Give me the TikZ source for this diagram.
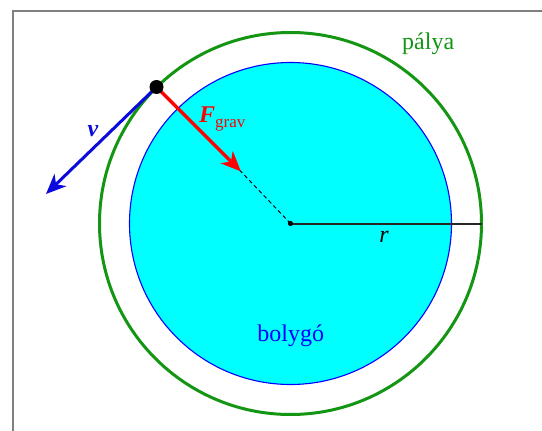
\documentclass[tikz,border=0pt]{standalone}
\usepackage{fontspec}
\setmainfont{Liberation Serif}
\usetikzlibrary{arrows.meta}
\definecolor{orbitgreen}{RGB}{20,150,20}
\definecolor{planetcyan}{RGB}{0,255,255}
\definecolor{planetblue}{RGB}{0,0,255}
\definecolor{forcered}{RGB}{255,0,0}
\definecolor{vblue}{RGB}{10,10,220}
\definecolor{framegray}{RGB}{128,128,128}
\tikzset{
  lbl/.style={inner sep=0pt, font=\fontsize{24}{28}\selectfont},
  vecarrow/.style={line width=3.4pt, -{Stealth[length=20pt,width=17pt,inset=6pt]}},
}
\begin{document}
\begin{tikzpicture}[x=1pt,y=-1pt]
\useasboundingbox (0,0) rectangle (542,431);
% frame
\draw[framegray, line width=2pt] (13,431) -- (13,11) -- (542,11);
% centre and points
\coordinate (C) at (290.5,223.5);
\coordinate (P) at (156.5,87);
\coordinate (Ftip) at (239.5,170);
\coordinate (Vtip) at (46,194);
\coordinate (R) at (481.5,223.5);
% planet
\fill[planetcyan] (C) circle[radius=161];
\draw[planetblue, line width=1.1pt] (C) circle[radius=161];
% orbit
\draw[orbitgreen, line width=3pt] (C) circle[radius=191];
% dashed line and radius
\draw[line width=1pt, dash pattern=on 4pt off 3pt] (Ftip) -- (C);
\draw[line width=2pt, black!85] (C) -- (R);
\fill (C) circle[radius=2.6];
% vectors
\draw[vecarrow, forcered, shorten >=-2pt] (P) -- (Ftip);
\draw[vecarrow, vblue, line width=3pt] (P) -- (Vtip);
\fill (P) circle[radius=7];
% labels
\node[lbl, text=vblue, anchor=center] (vl) at (93,131) {\textbf{\textit{v}}};
\node[lbl, text=forcered, anchor=base west] (fl) at (199,122) {\textbf{\textit{F}}\raisebox{-5pt}{\fontsize{17}{20}\selectfont grav}};
\node[lbl, anchor=center] (rl) at (384,237) {\textit{r}};
\node[lbl, text=orbitgreen, anchor=base west] (pl) at (402,49.5) {pálya};
\node[lbl, text=planetblue, anchor=base] (bl) at (290.7,341.7) {bolygó};
\end{tikzpicture}
\end{document}
